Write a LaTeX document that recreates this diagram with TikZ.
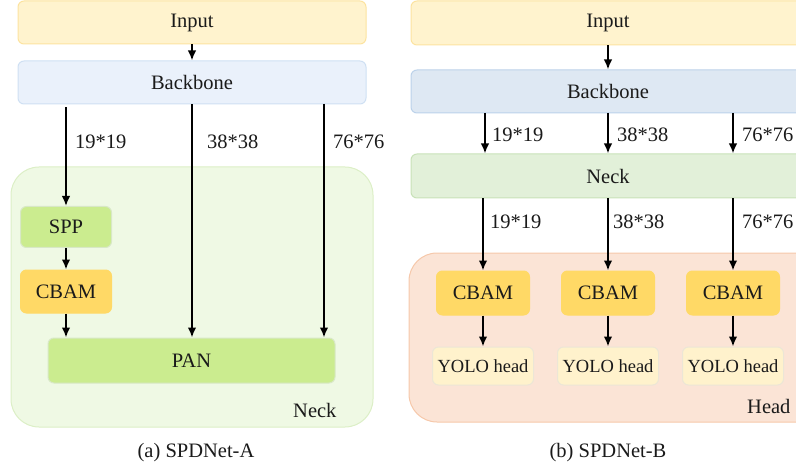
\documentclass[tikz,border=0pt]{standalone}
\usepackage{fontspec}
\setmainfont{Liberation Serif}
\usetikzlibrary{arrows.meta}
\definecolor{inF}{HTML}{FFF3CE}
\definecolor{inD}{HTML}{FCE3A0}
\definecolor{bbAF}{HTML}{EAF1FB}
\definecolor{bbAD}{HTML}{CFE0F3}
\definecolor{bbBF}{HTML}{DEE8F3}
\definecolor{bbBD}{HTML}{BCD2EA}
\definecolor{nkAF}{HTML}{EFF9E4}
\definecolor{nkAD}{HTML}{DCEFC6}
\definecolor{grF}{HTML}{CBEC8F}
\definecolor{grD}{HTML}{D8E8C6}
\definecolor{cbF}{HTML}{FFD966}
\definecolor{nkBF}{HTML}{E2F0D9}
\definecolor{nkBD}{HTML}{C8E2B8}
\definecolor{hdF}{HTML}{FBE4D6}
\definecolor{hdD}{HTML}{F6C8AA}
\definecolor{yoF}{HTML}{FFF2CC}
\definecolor{yoD}{HTML}{ECE6D6}
\definecolor{txt}{HTML}{1A1A1A}
\tikzset{
  box/.style={draw, line width=1pt, rounded corners=6pt, inner sep=0pt, text=txt, font=\fontsize{20.5}{24}\selectfont},
  cont/.style={draw, line width=1pt, rounded corners=28pt},
  arr/.style={line width=1.8pt, -{Latex[length=10pt,width=8.5pt]}},
  lbl/.style={text=txt, font=\fontsize{20.5}{24}\selectfont, inner sep=0pt, anchor=west},
}
\begin{document}
\begin{tikzpicture}[x=1pt,y=-1pt]
\useasboundingbox (0,0) rectangle (796,468);
\clip (0,0) rectangle (796,468);
% ---------- left panel ----------
\draw[cont, fill=nkAF, draw=nkAD] (11,167) rectangle (373,427);
\node[box, fill=inF, draw=inD, minimum width=348pt, minimum height=43pt] (inA) at (192,22.5) {Input};
\node[box, fill=bbAF, draw=bbAD, minimum width=348pt, minimum height=43pt] (bbA) at (192,82.5) {Backbone};
\node[box, fill=grF, draw=grD, minimum width=91pt, minimum height=41pt] (spp) at (66,227) {SPP};
\node[box, fill=cbF, draw=cbF, minimum width=91pt, minimum height=43pt] (cbA) at (66,291.5) {CBAM};
\node[box, fill=grF, draw=grD, minimum width=287pt, minimum height=45pt] (pan) at (191.5,360.5) {PAN};
\node[lbl] (nkAl) at (293,410) {Neck};
\node[text=txt, font=\fontsize{20.5}{24}\selectfont, inner sep=0pt] (capA) at (196,453) {(a) SPDNet-A};
\draw[arr] (inA.south) -- (bbA.north);
\draw[arr] ([yshift=-3pt]bbA.south -| spp.north) -- (spp.north);
\draw[arr] (spp.south) -- (cbA.north);
\draw[arr] (cbA.south) -- (pan.north -| cbA.south);
\draw[arr] (bbA.south) -- (pan.north -| bbA.south);
\coordinate (a3) at (324,104);
\draw[arr] (a3) -- (pan.north -| a3);
\node[lbl] (la1) at (75,142) {19*19};
\node[lbl] (la2) at (207,142) {38*38};
\node[lbl] (la3) at (333,142) {76*76};
% ---------- right panel ----------
\draw[cont, fill=hdF, draw=hdD] (409,253) rectangle (830,422);
\node[box, fill=inF, draw=inD, minimum width=394pt, minimum height=44pt] (inB) at (608,23) {Input};
\node[box, fill=bbBF, draw=bbBD, minimum width=394pt, minimum height=43pt] (bbB) at (608,91.5) {Backbone};
\node[box, fill=nkBF, draw=nkBD, minimum width=394pt, minimum height=44pt] (nkB) at (608,176) {Neck};
\draw[arr] (inB.south) -- (bbB.north);
\foreach \i/\x in {1/483,2/608,3/733}{
  \node[box, fill=cbF, draw=cbF, minimum width=93pt, minimum height=44pt] (cb\i) at (\x,293) {CBAM};
  \node[box, fill=yoF, draw=yoD, minimum width=101pt, minimum height=38pt, font=\fontsize{18.5}{22}\selectfont] (yo\i) at (\x,366) {YOLO head};
  \draw[arr] (cb\i.south) -- (yo\i.north);
}
\coordinate (b1) at (485,113);
\coordinate (b2) at (608,113);
\coordinate (b3) at (733,113);
\draw[arr] (b1) -- (nkB.north -| b1);
\draw[arr] (b2) -- (nkB.north -| b2);
\draw[arr] (b3) -- (nkB.north -| b3);
\draw[arr] (nkB.south -| cb1.north) -- (cb1.north);
\draw[arr] (nkB.south -| cb2.north) -- (cb2.north);
\draw[arr] (nkB.south -| cb3.north) -- (cb3.north);
\node[lbl] (lb1) at (492,135) {19*19};
\node[lbl] (lb2) at (617,135) {38*38};
\node[lbl] (lb3) at (742,135) {76*76};
\node[lbl] (lc1) at (490,222) {19*19};
\node[lbl] (lc2) at (613,222) {38*38};
\node[lbl] (lc3) at (742,222) {76*76};
\node[lbl] (hdl) at (747,406) {Head};
\node[text=txt, font=\fontsize{20.5}{24}\selectfont, inner sep=0pt] (capB) at (608,453) {(b) SPDNet-B};
\end{tikzpicture}
\end{document}
